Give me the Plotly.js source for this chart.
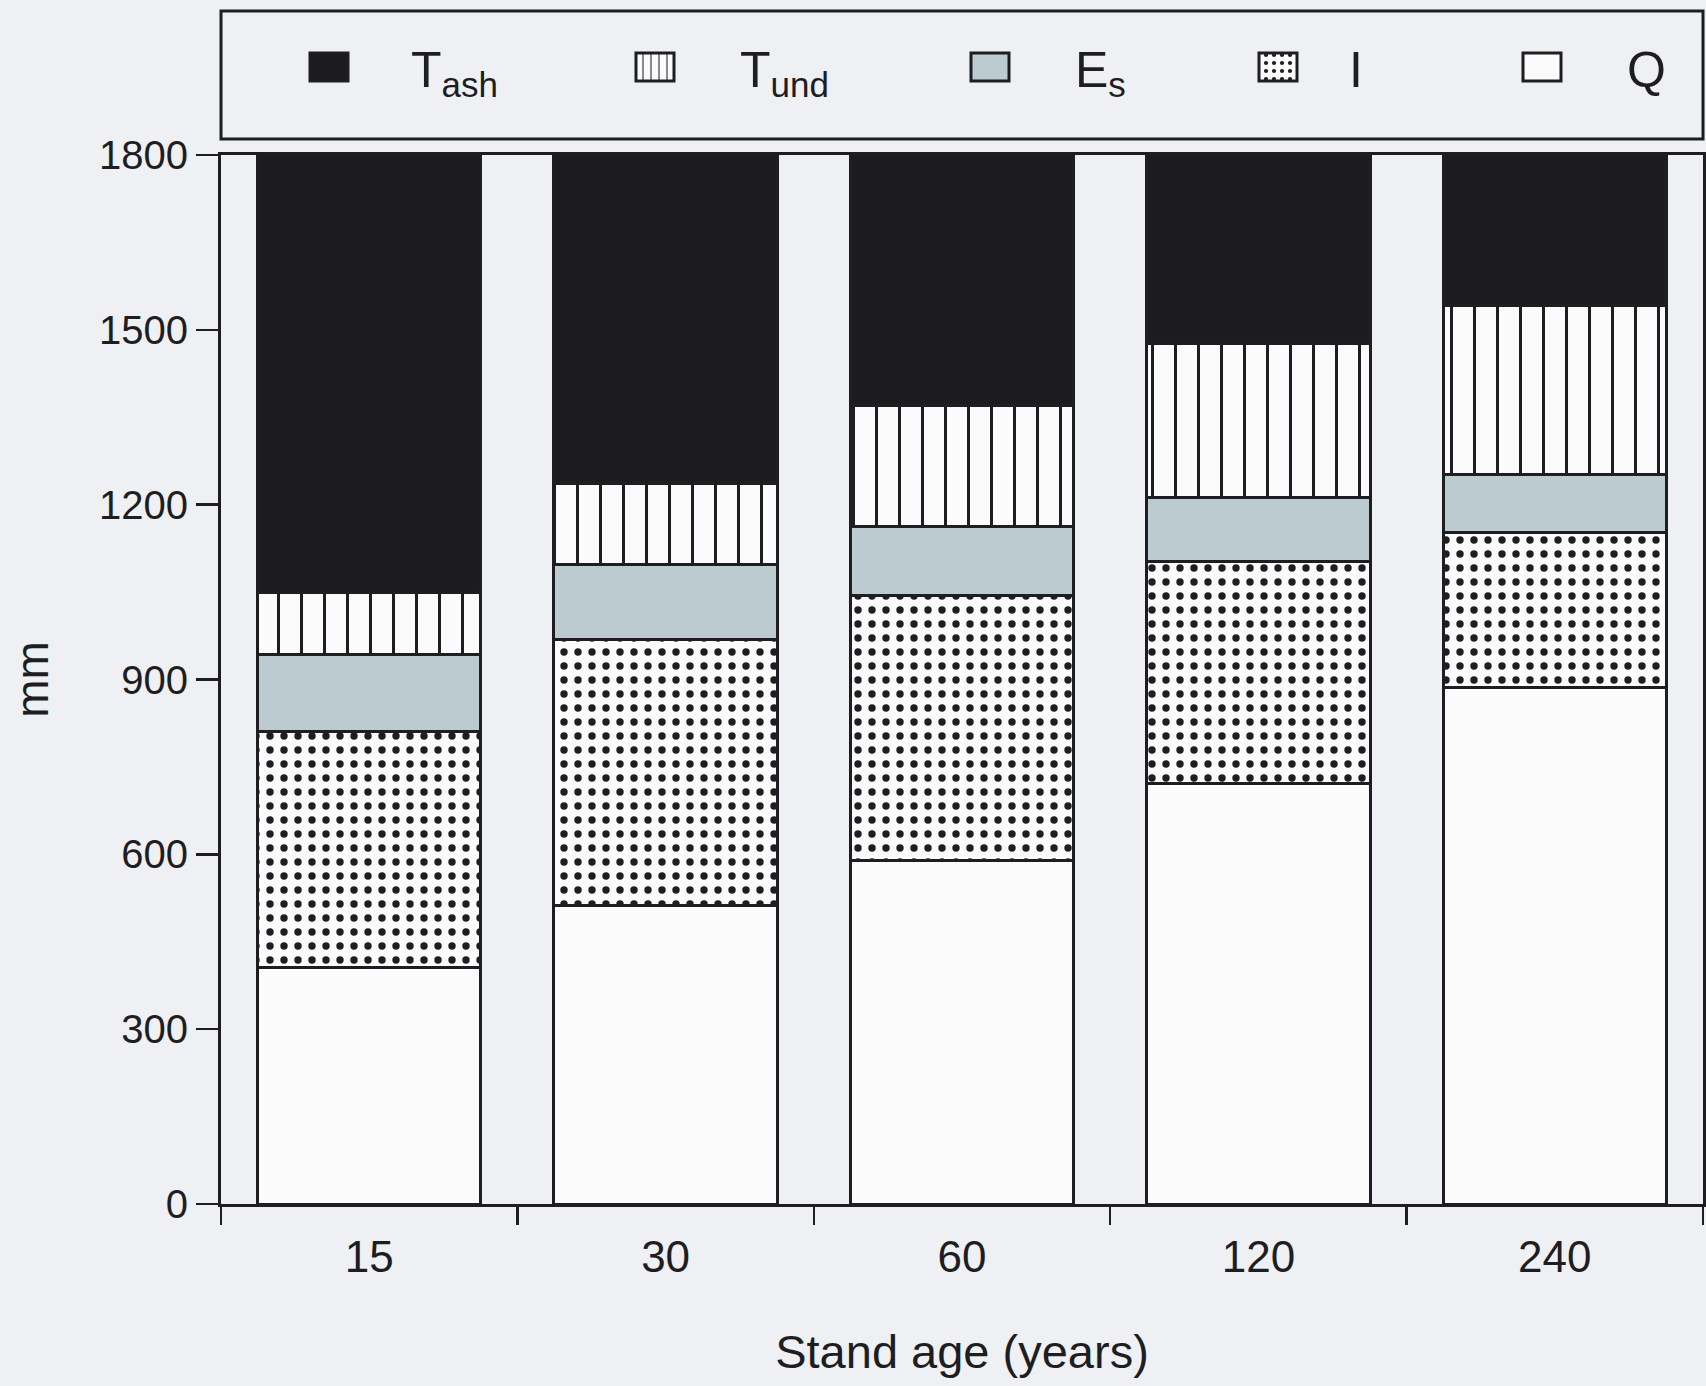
<!DOCTYPE html>
<html><head><meta charset="utf-8">
<script src="https://cdn.plot.ly/plotly-3.0.1.min.js"></script>
<style>html,body{margin:0;padding:0;background:#eef0f4;}</style>
</head><body><div id="chart" style="width:1706px;height:1386px;"></div>
<script>
const standAge = ['15', '30', '60', '120', '240'];
const Q    = [405, 513, 590, 721, 887];
const I    = [405, 456, 454, 381, 265];
const Es   = [133, 129, 119, 110, 99];
const Tund = [106, 138, 208, 265, 291];
const Tash = [751, 564, 429, 323, 258];
const yTicks = [0, 300, 600, 900, 1200, 1500, 1800];

const font = "'Liberation Sans', Arial, Helvetica, sans-serif";
const ink = '#1e1e22';
const outline = {color: ink, width: 3};

function tr(name, y, leg, color, pattern) {
  const m = {color: color, line: outline};
  if (pattern) m.pattern = pattern;
  return {type: 'bar', name: name, x: standAge, y: y, marker: m, legend: leg, hoverinfo: 'skip'};
}
const data = [
  tr('Q', Q, 'legend5', '#fbfbfc'),
  tr('I', I, 'legend4', '#fbfbfc', {shape: '.', fgcolor: ink, bgcolor: '#fbfbfc', size: 14, solidity: 0.22, fillmode: 'replace'}),
  tr('E<sub>s</sub>', Es, 'legend3', '#bccbd0'),
  tr('T<sub>und</sub>', Tund, 'legend2', '#fbfbfc', {shape: '|', fgcolor: ink, bgcolor: '#fbfbfc', size: 23, solidity: 0.13, fillmode: 'replace'}),
  tr('T<sub>ash</sub>', Tash, 'legend', '#1c1b1e')
];

const L = 221, R = 1703, T = 155, B = 1204;
const px = v => (v - L) / (R - L);
const py = v => (B - v) / (B - T);
function leg(symCenter, textStart) {
  const gap = textStart - symCenter;
  const iw = 2 * gap - 10;
  return {x: px(symCenter - gap), xanchor: 'left', y: py(67), yanchor: 'middle', orientation: 'h',
    bgcolor: 'rgba(0,0,0,0)', borderwidth: 0, itemwidth: iw,
    font: {family: font, size: 50, color: ink}};
}

const layout = {
  width: 1706, height: 1386,
  margin: {l: L, r: 1706 - R, t: T, b: 1386 - B},
  paper_bgcolor: '#eef0f4', plot_bgcolor: '#eef0f4',
  barmode: 'stack', bargap: 0.246,
  showlegend: true,
  legend: leg(329, 411), legend2: leg(655, 740), legend3: leg(990, 1075), legend4: leg(1278, 1349), legend5: leg(1542, 1627),
  xaxis: {type: 'category', tickson: 'boundaries', ticks: 'outside', ticklen: 18, tickwidth: 2.5, tickcolor: ink,
    showline: true, linewidth: 3, linecolor: ink, mirror: true, showgrid: false, zeroline: false,
    ticklabelstandoff: 12,
    tickfont: {family: font, size: 44, color: ink},
    title: {text: 'Stand age (years)', font: {family: font, size: 47, color: ink}, standoff: 56}},
  yaxis: {range: [0, 1800], tickvals: yTicks, ticktext: yTicks.map(String), ticks: 'outside', ticklen: 22, tickwidth: 2.5, tickcolor: ink,
    showline: true, linewidth: 3, linecolor: ink, mirror: true, showgrid: false, zeroline: false,
    tickfont: {family: font, size: 40, color: ink},
    title: {text: 'mm', font: {family: font, size: 46, color: ink}, standoff: 36}},
  shapes: [{type: 'rect', xref: 'paper', yref: 'paper', x0: 0, x1: 1, y0: py(139), y1: py(11),
    line: {color: ink, width: 3}, fillcolor: 'rgba(0,0,0,0)'}]
};

Plotly.newPlot('chart', data, layout, {displayModeBar: false, staticPlot: true}).then(gd => {
  gd.querySelectorAll('.legendpoints path').forEach(p => {
    p.setAttribute('d', 'M19,14H-19V-14H19Z');
    p.style.strokeWidth = '3px';
    p.style.stroke = ink;
  });
});
</script></body></html>
